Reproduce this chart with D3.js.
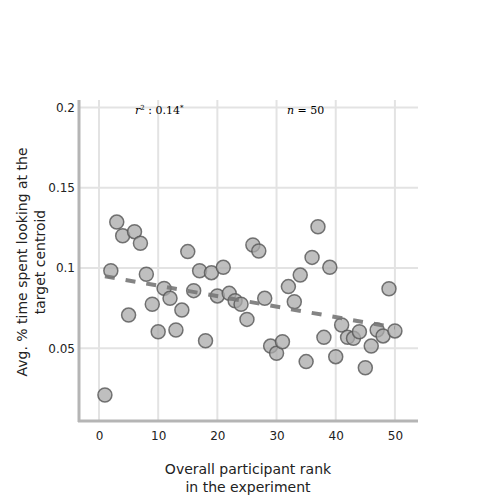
<!DOCTYPE html>
<html><head><meta charset="utf-8">
<script src="https://cdn.jsdelivr.net/npm/d3@7"></script>
<style>body{margin:0;background:#fff;} svg{display:block;}</style>
</head><body>
<svg id="c" width="500" height="500"></svg>
<script>
const ranks = d3.range(1, 51);
const values = [0.0209,0.0983,0.1286,0.1201,0.0707,0.1226,0.1154,0.0961,0.0774,0.0603,
  0.0873,0.0811,0.0614,0.0738,0.1102,0.0859,0.0983,0.0547,0.0971,0.0826,
  0.1004,0.0842,0.0796,0.0774,0.0680,0.1143,0.1106,0.0811,0.0514,0.0469,
  0.0541,0.0884,0.0790,0.0956,0.0417,0.1066,0.1257,0.0568,0.1004,0.0448,
  0.0645,0.0568,0.0562,0.0603,0.0379,0.0514,0.0614,0.0577,0.0871,0.0608];
const xTicks = [0,10,20,30,40,50];
const yTicks = [0.05,0.1,0.15,0.2];
const yTickLabels = ["0.05","0.1","0.15","0.2"];
const xLabel = ["Overall participant rank","in the experiment"];
const yLabel = ["Avg. % time spent looking at the","target centroid"];
const rSquared = "0.14";
const nCount = 50;

const svg = d3.select("#c");
const x = d3.scaleLinear().domain([-3.21, 53.9]).range([80, 418]);
const y = d3.scaleLinear().domain([0.00473, 0.2046]).range([421, 100]);
const font = "DejaVu Sans, Verdana, sans-serif";

// grid
svg.append("g").selectAll("line").data(xTicks).join("line")
  .attr("x1", d => x(d)).attr("x2", d => x(d)).attr("y1", 100).attr("y2", 421)
  .attr("stroke", "#e3e3e3").attr("stroke-width", 2);
svg.append("g").selectAll("line").data(yTicks).join("line")
  .attr("x1", 80).attr("x2", 418).attr("y1", d => y(d)).attr("y2", d => y(d))
  .attr("stroke", "#e3e3e3").attr("stroke-width", 2);

// axes
const xAxis = d3.axisBottom(x).tickValues(xTicks).tickSize(0).tickPadding(10);
const gx = svg.append("g").attr("transform", "translate(0,421)").call(xAxis);
gx.select(".domain").attr("stroke", "#b5b5b5").attr("stroke-width", 3).attr("d", "M78,0H418");
gx.selectAll("text").attr("font-family", font).attr("font-size", 12).attr("fill", "#222");

const yAxis = d3.axisLeft(y).tickValues(yTicks).tickFormat((d,i) => yTickLabels[i]).tickSize(0).tickPadding(4);
const gy = svg.append("g").attr("transform", "translate(79,0)").call(yAxis);
gy.select(".domain").attr("stroke", "#b5b5b5").attr("stroke-width", 3).attr("d", "M0,100V422");
gy.selectAll("text").attr("font-family", font).attr("font-size", 12).attr("fill", "#222");

// points
svg.append("g").selectAll("circle").data(ranks).join("circle")
  .attr("cx", d => x(d)).attr("cy", (d,i) => y(values[i])).attr("r", 7)
  .attr("fill", "#aaa").attr("fill-opacity", 0.75)
  .attr("stroke", "#555").attr("stroke-opacity", 0.8).attr("stroke-width", 1.5);

// regression
const mx = d3.mean(ranks), my = d3.mean(values);
let sxy = 0, sxx = 0;
ranks.forEach((r,i) => { sxy += (r-mx)*(values[i]-my); sxx += (r-mx)*(r-mx); });
const slope = sxy / sxx, icpt = my - slope*mx;
const x0 = d3.min(ranks), x1 = d3.max(ranks);
svg.append("line")
  .attr("x1", x(x0)).attr("y1", y(icpt + slope*x0))
  .attr("x2", x(x1)).attr("y2", y(icpt + slope*x1))
  .attr("stroke", "#777").attr("stroke-opacity", 0.9).attr("stroke-width", 4).attr("stroke-dasharray", "10,11");

// annotations
const serif = "DejaVu Serif, Liberation Serif, serif";
const t1 = svg.append("text").attr("x", 135).attr("y", 114).attr("font-family", serif).attr("font-size", 11);
t1.append("tspan").attr("font-style", "italic").text("r");
t1.append("tspan").attr("font-size", 7).attr("dy", -4).text("2");
t1.append("tspan").attr("dy", 4).text(" : " + rSquared);
t1.append("tspan").attr("font-size", 7).attr("dy", -4).text("*");
const t2 = svg.append("text").attr("x", 287).attr("y", 114).attr("font-family", serif).attr("font-size", 11);
t2.append("tspan").attr("font-style", "italic").text("n");
t2.append("tspan").text(" = " + nCount);

// axis labels
svg.append("text").attr("text-anchor", "middle").attr("font-family", font).attr("font-size", 14).attr("fill", "#222")
  .selectAll("tspan").data(xLabel).join("tspan")
  .attr("x", 248).attr("y", (d,i) => 474 + i*18).text(d => d);
svg.append("text").attr("text-anchor", "middle").attr("font-family", font).attr("font-size", 14).attr("fill", "#222")
  .attr("transform", "translate(0,262) rotate(-90)")
  .selectAll("tspan").data(yLabel).join("tspan")
  .attr("x", 0).attr("y", (d,i) => 27 + i*18).text(d => d);
</script>
</body></html>
